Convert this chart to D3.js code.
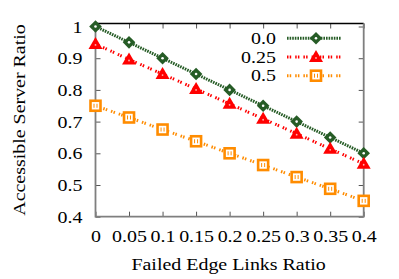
<!DOCTYPE html>
<html>
<head>
<meta charset="utf-8">
<script src="https://cdn.jsdelivr.net/npm/d3@7"></script>
<style>
 body { margin: 0; background: #fff; }
 text { font-family: "Liberation Serif", "Times New Roman", Times, serif; fill: #000; }
</style>
</head>
<body>
<div id="chart"></div>
<script>
// data
var xValues = [0, 0.05, 0.1, 0.15, 0.2, 0.25, 0.3, 0.35, 0.4];
var xTickLabels = ["0", "0.05", "0.1", "0.15", "0.2", "0.25", "0.3", "0.35", "0.4"];
var yTicks = [0.4, 0.5, 0.6, 0.7, 0.8, 0.9, 1];
var yTickLabels = ["0.4", "0.5", "0.6", "0.7", "0.8", "0.9", "1"];
var seriesNames = ["0.0", "0.25", "0.5"];
var series00 = [1, 0.95, 0.9, 0.85, 0.8, 0.75, 0.7, 0.65, 0.6];
var series025 = [0.945, 0.896, 0.85, 0.803, 0.756, 0.709, 0.662, 0.614, 0.567];
var series05 = [0.75, 0.713, 0.675, 0.638, 0.6, 0.563, 0.525, 0.488, 0.45];

var W = 399, H = 279;
var margin = { top: 23.5, right: 35.3, bottom: 62.3, left: 95.5 };
var w = W - margin.left - margin.right;
var h = H - margin.top - margin.bottom;

var svg = d3.select("#chart").append("svg")
   .attr("width", W).attr("height", H);
var g = svg.append("g")
   .attr("transform", "translate(" + margin.left + "," + margin.top + ")");

var x = d3.scaleLinear().domain([0, 0.4]).range([0, w]);
var y = d3.scaleLinear().domain([0.4, 1.0095]).range([h, 0]);

var fontSize = 17.5;
var stretch = 1.14; // the original text is a bit wider than plain Times

// turn x/y of a text into a translate so it can be widened
function widen(sel) {
 sel.each(function() {
   var t = d3.select(this);
   var tx = +t.attr("x") || 0, ty = +t.attr("y") || 0;
   t.attr("x", 0).attr("y", 0)
     .attr("transform", "translate(" + tx + "," + ty + ") scale(" + stretch + ",1)");
 });
}

// axes (inward ticks)
var yAxis = g.append("g")
   .call(d3.axisLeft(y).tickValues(yTicks).tickSize(-5).tickPadding(13)
     .tickFormat(function(d, i) { return yTickLabels[i]; }));
var xAxis = g.append("g")
   .attr("transform", "translate(0," + h + ")")
   .call(d3.axisBottom(x).tickValues(xValues).tickSize(-5)
     .tickFormat(function(d, i) { return xTickLabels[i]; }));
var yAxisR = g.append("g")
   .attr("transform", "translate(" + w + ",0)")
   .call(d3.axisRight(y).tickValues(yTicks).tickSize(-5).tickFormat(""));
var xAxisT = g.append("g")
   .call(d3.axisTop(x).tickValues(xValues).tickSize(-5).tickFormat(""));

[yAxis, xAxis, yAxisR, xAxisT].forEach(function(a) {
 a.attr("font-family", null);
 a.select(".domain").remove();
 a.selectAll("line").attr("stroke", "#555").attr("stroke-width", 1);
 a.selectAll("text").attr("font-size", fontSize);
});
xAxis.selectAll("text").attr("y", 25.3).attr("dy", 0);
widen(xAxis.selectAll("text"));
widen(yAxis.selectAll("text"));

// border: top black, others gray
g.append("line").attr("x1", 0).attr("x2", w).attr("y1", 0).attr("y2", 0)
   .attr("stroke", "#000").attr("stroke-width", 1.5);
g.append("path")
   .attr("d", "M0,0V" + h + "H" + w + "V0")
   .attr("fill", "none").attr("stroke", "#7f7f7f").attr("stroke-width", 1.8);

// axis titles
svg.append("text")
   .attr("transform", "translate(" + (margin.left + x(0.2) - 1) + ",270) scale(" + stretch + ",1)")
   .attr("text-anchor", "middle").attr("font-size", fontSize)
   .text("Failed Edge Links Ratio");
svg.append("text")
   .attr("transform", "translate(25,120) rotate(-90) scale(" + stretch + ",1)")
   .attr("text-anchor", "middle").attr("font-size", fontSize)
   .text("Accessible Server Ratio");

var styles = [
 { color: "#265c26", dash: "1.6,1", marker: "diamond" },
 { color: "#ff0000", dash: "1.5,1.2,1.5,4", marker: "triangle" },
 { color: "#ff8c00", dash: "1.5,1.2,1.5,4", marker: "square" }
];
var allSeries = [series00, series025, series05];

function drawMarker(sel, kind, color) {
 if (kind === "diamond") {
   sel.append("path").attr("d", "M0,-6.3L6.3,0L0,6.3L-6.3,0Z").attr("fill", color);
   sel.append("circle").attr("r", 1.3).attr("fill", "#fff");
 } else if (kind === "triangle") {
   sel.append("path").attr("d", "M0,-7L7,5L-7,5Z").attr("fill", color);
   sel.append("circle").attr("r", 0.9).attr("cy", 1).attr("fill", "#ffb0b0");
 } else {
   sel.append("rect").attr("x", -5).attr("y", -5).attr("width", 10).attr("height", 10)
     .attr("fill", "#fff").attr("stroke", color).attr("stroke-width", 2.6);
   sel.append("path").attr("d", "M-1.5,-2V2M1.5,-2V2").attr("stroke", color).attr("stroke-width", 1);
 }
}

var line = d3.line()
   .x(function(d, i) { return x(xValues[i]); })
   .y(function(d) { return y(d); });

allSeries.forEach(function(s, k) {
 var st = styles[k];
 g.append("path").datum(s)
   .attr("d", line)
   .attr("fill", "none").attr("stroke", st.color)
   .attr("stroke-width", 3).attr("stroke-dasharray", st.dash);
 g.selectAll(".m" + k).data(s).enter().append("g")
   .attr("class", "m" + k)
   .attr("transform", function(d, i) { return "translate(" + x(xValues[i]) + "," + y(d) + ")"; })
   .each(function() { drawMarker(d3.select(this), st.marker, st.color); });
});

// legend
var legend = svg.append("g");
seriesNames.forEach(function(name, k) {
 var st = styles[k];
 var cy = 38.3 + k * 18.7;
 legend.append("text")
   .attr("transform", "translate(276," + (cy + 5.5) + ") scale(" + stretch + ",1)")
   .attr("text-anchor", "end").attr("font-size", fontSize)
   .text(name);
 legend.append("line")
   .attr("x1", 287).attr("x2", 341).attr("y1", cy).attr("y2", cy)
   .attr("stroke", st.color).attr("stroke-width", 3).attr("stroke-dasharray", st.dash);
 var mk = legend.append("g").attr("transform", "translate(316," + cy + ")");
 drawMarker(mk, st.marker, st.color);
});
</script>
</body>
</html>
